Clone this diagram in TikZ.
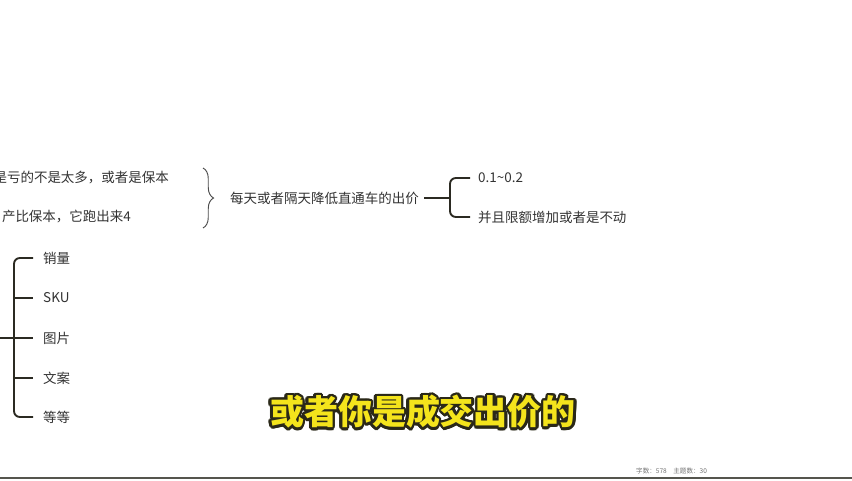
\documentclass[tikz,border=0pt]{standalone}
\usepackage{fontspec}
\setmainfont{Noto Sans CJK SC}
\usepackage{xcolor}
\usepackage[copies]{contour}
\usepackage{tikz}
\usetikzlibrary{positioning,calc,decorations.pathreplacing}
\definecolor{cT}{HTML}{333333}
\definecolor{cL}{HTML}{2B2A22}
\definecolor{cY}{HTML}{F4E41C}
\definecolor{cO}{HTML}{2A2818}
\tikzset{topic/.style={font=\fontsize{11.5}{13}\selectfont,text=cT,inner sep=0pt,anchor=west},
  branch/.style={cL,line width=1.6pt,rounded corners=5pt},
  sub/.style={font=\fontsize{29}{32}\selectfont\bfseries,text=cY,inner sep=0pt}}
\contourlength{2.2pt}
\begin{document}
\begin{tikzpicture}[x=0.03cm,y=-0.03cm]
  \useasboundingbox[fill=white] (0,0) rectangle (852,480);
  % partly hidden topics on the left
  \node[topic,anchor=east] (loss) at (169,178) {是亏的不是太多，或者是保本};
  \node[topic,anchor=east] (roi) at (131,217) {产比保本，它跑出来4};
  \draw[decorate,decoration={brace,amplitude=9pt},gray!60!black,line width=0.8pt] (203,168) -- (203,228);
  \node[topic] (bid) at (230,198) {每天或者隔天降低直通车的出价};
  \node[topic] (step) at (478,178) {0.1\textasciitilde0.2};
  \node[topic] (lim) at (478,217) {并且限额增加或者是不动};
  \coordinate (j1) at (450,198);
  \draw[branch] (bid.east) ++(5,0) -- (j1);
  \draw[branch] ($(step.west)+(-8,0)$) -| (j1) |- ($(lim.west)+(-8,0)$);
  % left list
  \coordinate (root) at (0,338);
  \coordinate (j2) at (14,338);
  \node[topic] (sales) at (43,258) {销量};
  \node[topic] (sku) at (43,298) {SKU};
  \node[topic] (pic) at (43,338) {图片};
  \node[topic] (copy) at (43,378) {文案};
  \node[topic] (etc) at (43,417) {等等};
  \draw[branch] (root) -- (j2);
  \draw[branch] ($(sales.west)+(-10,0)$) -| (j2) |- ($(etc.west)+(-10,0)$);
  \foreach \n in {sku,pic,copy} \draw[branch] (j2 |- \n.west) -- ($(\n.west)+(-10,0)$);
  % subtitle
  \node[sub] (subt) at (423,413) {\contour{cO}{或者你是成交出价的}};
  % status bar
  \node[font=\fontsize{5.6}{6}\selectfont,text=gray!90!black,inner sep=0pt,anchor=west] (stat) at (636,471) {字数：578\quad 主题数：30};
  \draw[cL!80,line width=1.2pt] (0,478) -- (852,478);
\end{tikzpicture}
\end{document}
